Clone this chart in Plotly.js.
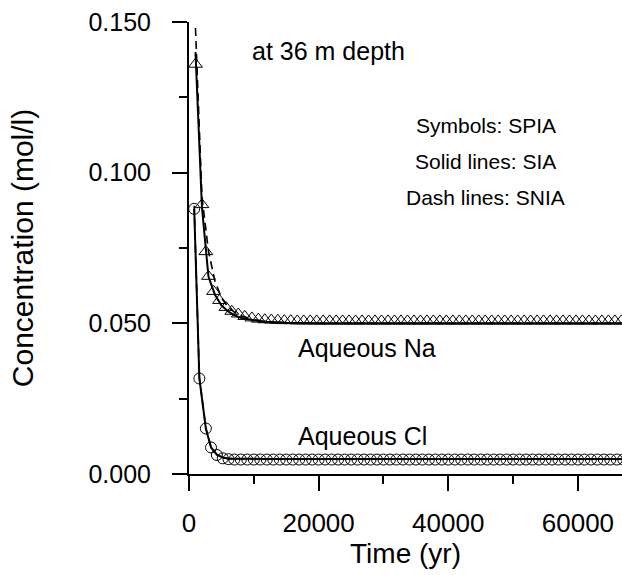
<!DOCTYPE html>
<html>
<head>
<meta charset="utf-8">
<script src="https://cdn.plot.ly/plotly-3.0.1.min.js"></script>
<style>html,body{margin:0;padding:0;background:#fff;}#chart{width:622px;height:575px;}</style>
</head>
<body>
<div id="chart"></div>
<script>
// Aqueous Na, SPIA (triangles)
const naSpiaT = [1000,2000,2600,3000,3800,4700,5700,6600,7600,8600,9700,10700,11700,12700,13700,14700,15700,16700,17700,18700,19700,20700,21700,22700,23700,24700,25700,26700,27700,28700,29700,30700,31700,32700,33700,34700,35700,36700,37700,38700,39700,40700,41700,42700,43700,44700,45700,46700,47700,48700,49700,50700,51700,52700,53700,54700,55700,56700,57700,58700,59700,60700,61700,62700,63700,64700,65700,66700];
const naSpiaC = [0.136,0.0894,0.0738,0.0656,0.0606,0.0576,0.0553,0.0540,0.0531,0.0523,0.0518,0.0514,0.0512,0.0511,0.0510,0.0509,0.0509,0.0508,0.0508,0.0508,0.0508,0.0508,0.0508,0.0508,0.0508,0.0508,0.0508,0.0508,0.0508,0.0508,0.0508,0.0508,0.0508,0.0508,0.0508,0.0508,0.0508,0.0508,0.0508,0.0508,0.0508,0.0508,0.0508,0.0508,0.0508,0.0508,0.0508,0.0508,0.0508,0.0508,0.0508,0.0508,0.0508,0.0508,0.0508,0.0508,0.0508,0.0508,0.0508,0.0508,0.0508,0.0508,0.0508,0.0508,0.0508,0.0508,0.0508,0.0508];
// Aqueous Na, SIA (solid)
const naSiaT = [1000,2000,3000,4000,5000,6000,7000,8000,10000,12000,15000,20000,30000,45000,67000];
const naSiaC = [0.140,0.0885,0.0655,0.0595,0.0560,0.0540,0.0527,0.0518,0.0510,0.0505,0.0502,0.0500,0.0500,0.0500,0.0500];
// Aqueous Na, SNIA (dashed)
const naSniaT = [1000,2000,3000,4000,5000,6000,7000,8000,10000,12000,15000,20000,30000,45000,67000];
const naSniaC = [0.148,0.092,0.074,0.064,0.0585,0.0555,0.0537,0.0525,0.0512,0.0506,0.0502,0.0500,0.0500,0.0500,0.0500];
// Aqueous Cl, SPIA (circles)
const clSpiaT = [800,1600,2600,3400,4300,5200,6100,7000,8000,9000,10000,11000,12000,13000,14000,15000,16000,17000,18000,19000,20000,21000,22000,23000,24000,25000,26000,27000,28000,29000,30000,31000,32000,33000,34000,35000,36000,37000,38000,39000,40000,41000,42000,43000,44000,45000,46000,47000,48000,49000,50000,51000,52000,53000,54000,55000,56000,57000,58000,59000,60000,61000,62000,63000,64000,65000,66000,67000];
const clSpiaC = [0.088,0.0317,0.0151,0.0088,0.0063,0.0052,0.0049,0.0048,0.0048,0.0048,0.0048,0.0048,0.0048,0.0048,0.0048,0.0048,0.0048,0.0048,0.0048,0.0048,0.0048,0.0048,0.0048,0.0048,0.0048,0.0048,0.0048,0.0048,0.0048,0.0048,0.0048,0.0048,0.0048,0.0048,0.0048,0.0048,0.0048,0.0048,0.0048,0.0048,0.0048,0.0048,0.0048,0.0048,0.0048,0.0048,0.0048,0.0048,0.0048,0.0048,0.0048,0.0048,0.0048,0.0048,0.0048,0.0048,0.0048,0.0048,0.0048,0.0048,0.0048,0.0048,0.0048,0.0048,0.0048,0.0048,0.0048,0.0048];
// Aqueous Cl, SIA (solid)
const clSiaT = [800,1600,2600,3400,4300,5200,6100,8000,12000,20000,40000,67000];
const clSiaC = [0.088,0.0317,0.0151,0.0088,0.0064,0.0055,0.0051,0.0050,0.0050,0.0050,0.0050,0.0050];
// Aqueous Cl, SNIA (dashed)
const clSniaT = [800,1600,2600,3400,4300,5200,6100,8000,12000,20000,40000,67000];
const clSniaC = [0.089,0.0320,0.0153,0.0089,0.0064,0.0055,0.0051,0.0050,0.0050,0.0050,0.0050,0.0050];

const xTicks = [0,20000,40000,60000];
const xTickText = ['0','20000','40000','60000'];
const yTicks = [0,0.05,0.1,0.15];
const yTickText = ['0.000','0.050','0.100','0.150'];

const FONT = 'Liberation Sans, Arial, sans-serif';
const traces = [
  {x: naSniaT, y: naSniaC, mode:'lines', line:{color:'#000', width:1.6, dash:'8px,5px'}, hoverinfo:'skip'},
  {x: clSniaT, y: clSniaC, mode:'lines', line:{color:'#000', width:1.6, dash:'8px,5px'}, hoverinfo:'skip'},
  {x: naSiaT, y: naSiaC, mode:'lines', line:{color:'#000', width:2}},
  {x: clSiaT, y: clSiaC, mode:'lines', line:{color:'#000', width:2}},
  {x: naSpiaT, y: naSpiaC, mode:'markers', marker:{symbol:'triangle-up-open', size:12, color:'#000', line:{width:1, color:'#000'}}},
  {x: clSpiaT, y: clSpiaC, mode:'markers', marker:{symbol:'circle-open', size:11, color:'#000', line:{width:1, color:'#000'}}}
];

const layout = {
  width:622, height:575,
  margin:{l:189, r:0, t:22, b:101},
  paper_bgcolor:'#fff', plot_bgcolor:'#fff',
  showlegend:false,
  font:{family:FONT, color:'#000', size:22},
  xaxis:{
    range:[0,66800], showgrid:false, zeroline:false,
    showline:true, linecolor:'#000', linewidth:2,
    ticks:'outside', ticklen:15, tickwidth:2, tickcolor:'#000',
    tickvals:xTicks, ticktext:xTickText, ticklabelstandoff:10,
    tickfont:{family:FONT, size:26, color:'#000'},
    minor:{tickvals:[10000,30000,50000], ticks:'outside', ticklen:8, tickwidth:2, tickcolor:'#000'},
    title:{text:'Time (yr)', font:{family:FONT, size:28, color:'#000'}, standoff:0}
  },
  yaxis:{
    range:[0,0.15], showgrid:false, zeroline:false,
    showline:true, linecolor:'#000', linewidth:2,
    ticks:'outside', ticklen:15, tickwidth:2, tickcolor:'#000',
    tickvals:yTicks, ticktext:yTickText, ticklabelstandoff:16,
    tickfont:{family:FONT, size:25, color:'#000'},
    minor:{tickvals:[0.025,0.075,0.125], ticks:'outside', ticklen:8, tickwidth:2, tickcolor:'#000'},
    title:{text:'Concentration (mol/l)', font:{family:FONT, size:30, color:'#000'}, standoff:46}
  },
  annotations:[
    {xref:'x', yref:'y', x:21500, y:0.1405, text:'at 36 m depth', showarrow:false, font:{family:FONT, size:25, color:'#000'}},
    {xref:'x', yref:'y', x:45800, y:0.1155, text:'Symbols: SPIA', showarrow:false, font:{family:FONT, size:21, color:'#000'}},
    {xref:'x', yref:'y', x:45800, y:0.1037, text:'Solid lines: SIA', showarrow:false, font:{family:FONT, size:21, color:'#000'}},
    {xref:'x', yref:'y', x:45800, y:0.0918, text:'Dash lines: SNIA', showarrow:false, font:{family:FONT, size:21, color:'#000'}},
    {xref:'x', yref:'y', x:16500, y:0.0417, xanchor:'left', text:'Aqueous Na', showarrow:false, font:{family:FONT, size:25, color:'#000'}},
    {xref:'x', yref:'y', x:16500, y:0.0125, xanchor:'left', text:'Aqueous Cl', showarrow:false, font:{family:FONT, size:25, color:'#000'}}
  ]
};

Plotly.newPlot('chart', traces, layout, {displayModeBar:false, staticPlot:true});
</script>
</body>
</html>
